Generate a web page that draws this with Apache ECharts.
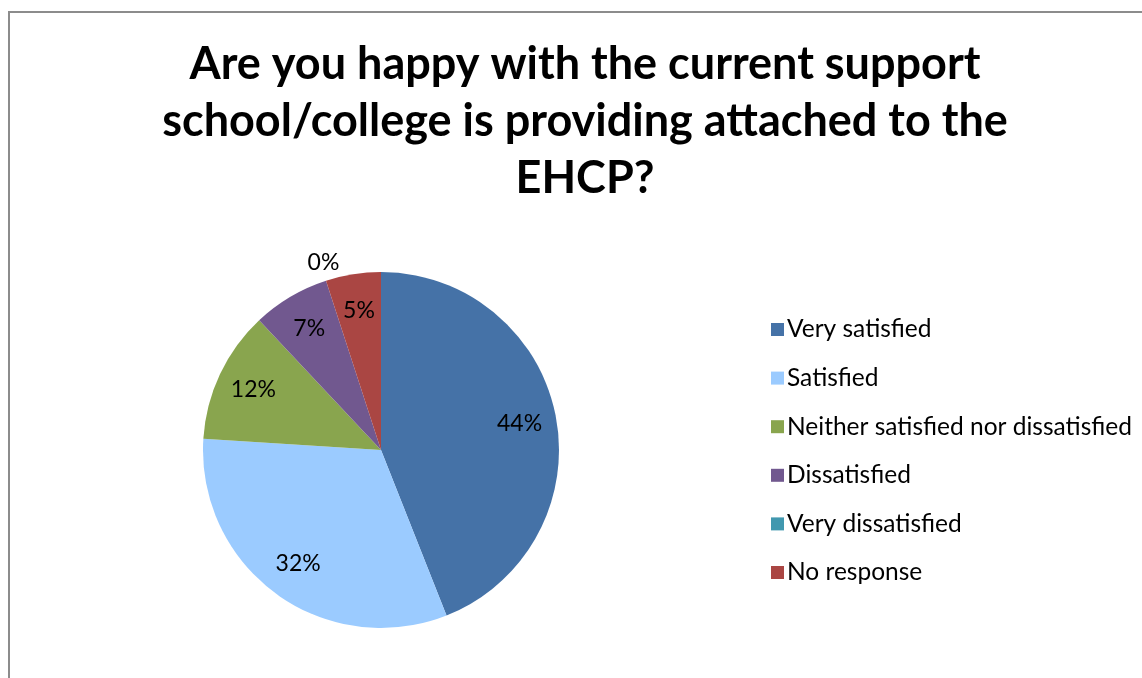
<!DOCTYPE html>
<html>
<head>
<meta charset="utf-8">
<script src="https://cdn.jsdelivr.net/npm/echarts@6/dist/echarts.min.js"></script>
<style>
    body { margin: 0; background: #fff; }
    #chart { width: 1142px; height: 678px; }
    #frame {
        position: absolute; left: 8px; top: 11px; right: -10px; bottom: -10px;
        border-left: 2px solid #8c8c8c; border-top: 2px solid #8c8c8c;
        pointer-events: none;
    }
</style>
</head>
<body>
<div id="chart"></div>
<div id="frame"></div>
<script>
// 数据
const categories = ['Very satisfied', 'Satisfied', 'Neither satisfied nor dissatisfied', 'Dissatisfied', 'Very dissatisfied', 'No response'];
const values = [44, 32, 12, 7, 0, 5];
const colors = ['#4572A7', '#9BCBFF', '#89A54E', '#71588F', '#4198AF', '#AA4643'];

document.addEventListener('DOMContentLoaded', function() {
    const chart = echarts.init(document.getElementById('chart'));
    const font = 'Lato, "Open Sans", sans-serif';

    const pieData = categories.map(function(name, i) {
        return { name: name, value: values[i], itemStyle: { color: colors[i] } };
    });

    // 透明的标签层，让标签落在约 0.8 半径处
    const labelData = categories.map(function(name, i) {
        const item = { name: name, value: values[i], itemStyle: { color: 'rgba(0,0,0,0)' } };
        if (values[i] === 0) {
            item.label = { offset: [-14, -53] };
        }
        return item;
    });

    const option = {
        animation: false,
        title: {
            text: 'Are you happy with the current support\nschool/college is providing attached to the\nEHCP?',
            left: 580,
            textAlign: 'center',
            top: 31,
            textStyle: {
                fontFamily: font,
                fontWeight: 'bold',
                fontSize: 45,
                lineHeight: 57,
                color: '#000'
            }
        },
        legend: {
            orient: 'vertical',
            left: 766,
            top: 312,
            icon: 'rect',
            itemWidth: 13,
            itemHeight: 13,
            itemGap: 23.6,
            itemStyle: { borderWidth: 0 },
            data: categories,
            selectedMode: false,
            textStyle: {
                fontFamily: font,
                fontSize: 24.5,
                lineHeight: 21,
                color: '#000',
                padding: [0, 0, 0, -2]
            }
        },
        series: [
            {
                name: 'pie',
                type: 'pie',
                center: [381, 450],
                radius: 178,
                startAngle: 90,
                clockwise: true,
                label: { show: false },
                labelLine: { show: false },
                emphasis: { disabled: true },
                itemStyle: { borderWidth: 0 },
                data: pieData
            },
            {
                name: 'labels',
                type: 'pie',
                center: [381, 450],
                radius: [98, 178],
                startAngle: 90,
                clockwise: true,
                silent: true,
                avoidLabelOverlap: false,
                label: {
                    show: true,
                    position: 'inside',
                    formatter: '{d}%',
                    fontFamily: font,
                    fontSize: 23,
                    color: '#000'
                },
                labelLine: { show: false },
                data: labelData
            }
        ]
    };

    chart.setOption(option);

    window.addEventListener('resize', function() {
        chart.resize();
    });
});
</script>
</body>
</html>
